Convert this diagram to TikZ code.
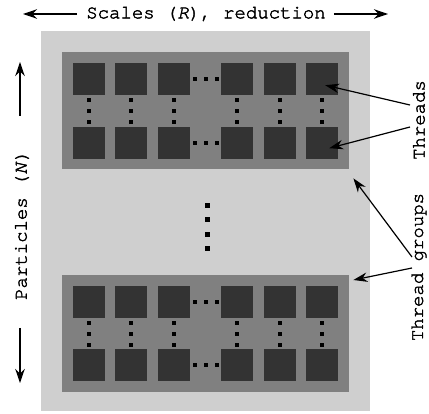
\documentclass[tikz,border=0pt]{standalone}
\usepackage{fontspec}
\setmonofont[FakeBold=2, ItalicFont=* Italic, ItalicFeatures={FakeBold=2}]{TeX Gyre Cursor}
\usetikzlibrary{
  positioning,
  arrows.meta,
  calc
}
\definecolor{panelgray}{RGB}{207, 207, 207}
\definecolor{groupgray}{RGB}{128, 128, 128}
\definecolor{threadgray}{RGB}{51, 51, 51}
\tikzset{
  panel/.style={
    fill=panelgray, inner sep=0pt,
    minimum width=329pt,
    minimum height=380pt
  },
  group/.style={
    fill=groupgray, inner sep=0pt,
    minimum width=287pt,
    minimum height=117pt
  },
  thread/.style={fill=threadgray, inner sep=0pt, minimum size=32pt},
  pointer/.style={-{Stealth[length=14pt, width=9.5pt]}, line width=1.2pt, black},
  lbl/.style={font=\fontsize{19}{22}\selectfont\ttfamily, inner sep=0pt}
}

\begin{document}
\begin{tikzpicture}[x=1pt, y=-1pt]
\useasboundingbox (0,0) rectangle (429,414);

\node[panel, anchor=north west] (panel) at (41,31) {};
\node[group, anchor=north west] (gtop) at (62,52) {};
\node[group, anchor=north west] (gbot) at (62,275) {};

% Threads (two rows per group)
\foreach \c/\x in {1/73, 2/115, 3/158, 4/221, 5/264, 6/306} {
  \node[thread, anchor=north west] (ta\c) at (\x,63) {};
  \node[thread, anchor=north west] (tb\c) at (\x,127) {};
  \node[thread, anchor=north west] (ba\c) at (\x,286) {};
  \node[thread, anchor=north west] (bb\c) at (\x,349) {};
  \foreach \d in {-11, 0, 11} {
    \fill ($(ta\c.south)!0.5!(tb\c.north)+(-2,\d-2)$) rectangle ++(4,4);
    \fill ($(ba\c.south)!0.5!(bb\c.north)+(-2,\d-2)$) rectangle ++(4,4);
  }
}
\foreach \r in {ta, tb, ba, bb}
  \foreach \d in {-11, 0, 11}
    \fill ($(\r3.east)!0.5!(\r4.west)+(\d-2,-2)$) rectangle ++(4,4);

% Groups in between
\foreach \d in {-21.5, -7.2, 7.2, 21.5}
  \fill ($(gtop.south)!0.5!(gbot.north)+(-0.5,\d+2.5)$) rectangle ++(5,5);

% Labels
\node[lbl] (scales) at (206,14) {Scales (\textit{R}), reduction};
\node[lbl, rotate=90] (particles) at (22,225) {Particles (\textit{N})};
\node[lbl, rotate=90] (threads) at (419,120) {Threads};
\node[lbl, rotate=90] (tgroups) at (419,267) {Thread groups};

\coordinate (sleft) at (23,14);
\coordinate (sright) at (388,14);
\coordinate (ptail1) at (20,116);
\coordinate (pup) at (20,62);
\coordinate (ptail2) at (20,328);
\coordinate (pdown) at (20,383);
\coordinate (thr1) at (410,105);
\coordinate (thr2) at (410,127);
\coordinate (grp1) at (412,257);
\coordinate (grp2) at (412,268);

\draw[pointer] ([xshift=-9pt]scales.west) -- (sleft);
\draw[pointer] ([xshift=8pt]scales.east) -- (sright);
\draw[pointer] (ptail1) -- (pup);
\draw[pointer] (ptail2) -- (pdown);

% Arrows to threads and groups
\draw[pointer] (thr1) -- ($(ta6.center)+(3,6)$);
\draw[pointer] (thr2) -- ($(tb6.center)+(7,5)$);
\draw[pointer] (grp1) -- ($(gtop.south east)+(4,9)$);
\draw[pointer] (grp2) -- ($(gbot.north east)+(4,5)$);

\end{tikzpicture}
\end{document}
